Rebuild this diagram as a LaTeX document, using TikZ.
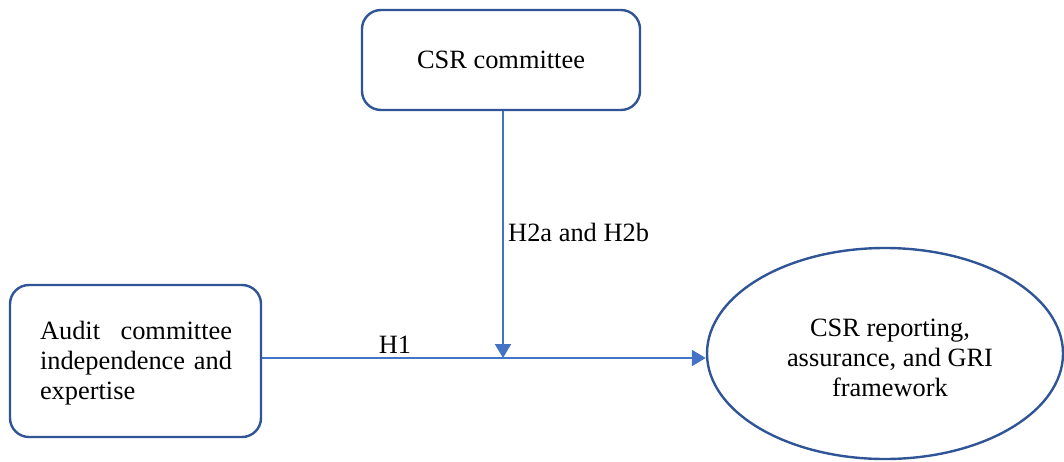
\documentclass[tikz,border=0pt]{standalone}
\usepackage{fontspec}
\setmainfont{Liberation Serif}
\usetikzlibrary{arrows.meta,shapes.geometric}
\definecolor{boxblue}{HTML}{2F5597}
\definecolor{linkblue}{HTML}{4472C4}
\tikzset{
  box/.style={draw=boxblue, line width=2.4pt, rounded corners=19pt, fill=white},
  ell/.style={draw=boxblue, line width=2.4pt, ellipse, inner sep=0pt},
  link/.style={draw=linkblue, line width=2.2pt, -{Triangle[length=14pt,width=16pt]}},
  lbl/.style={font=\fontsize{26.4}{30}\selectfont, inner sep=0pt},
}
\begin{document}
\begin{tikzpicture}[x=1pt,y=-1pt]
\useasboundingbox (0,0) rectangle (1064,461);
\node[box, minimum width=278pt, minimum height=100pt, lbl] (csr) at (501,60) {CSR committee};
\node[box, minimum width=251pt, minimum height=152pt] (aud) at (135.5,361) {};
\node[lbl, text width=192pt, align=left] (audt) at (136,363) {Audit\hfill committee\\independence\hfill and\\expertise};
\node[ell, minimum width=356pt, minimum height=211pt] (out) at (885,353.5) {};
\node[lbl, align=center] (outt) at (890,358) {CSR reporting,\\assurance, and GRI\\framework};
\coordinate (j) at (503,358);
\draw[link] (aud.east |- j) -- (out.west |- j);
\draw[link] (csr.south -| j) -- (j);
\node[lbl] (h1) at (395,345) {H1};
\node[lbl, anchor=west] (h2) at (508,232) {H2a and H2b};
\end{tikzpicture}
\end{document}
